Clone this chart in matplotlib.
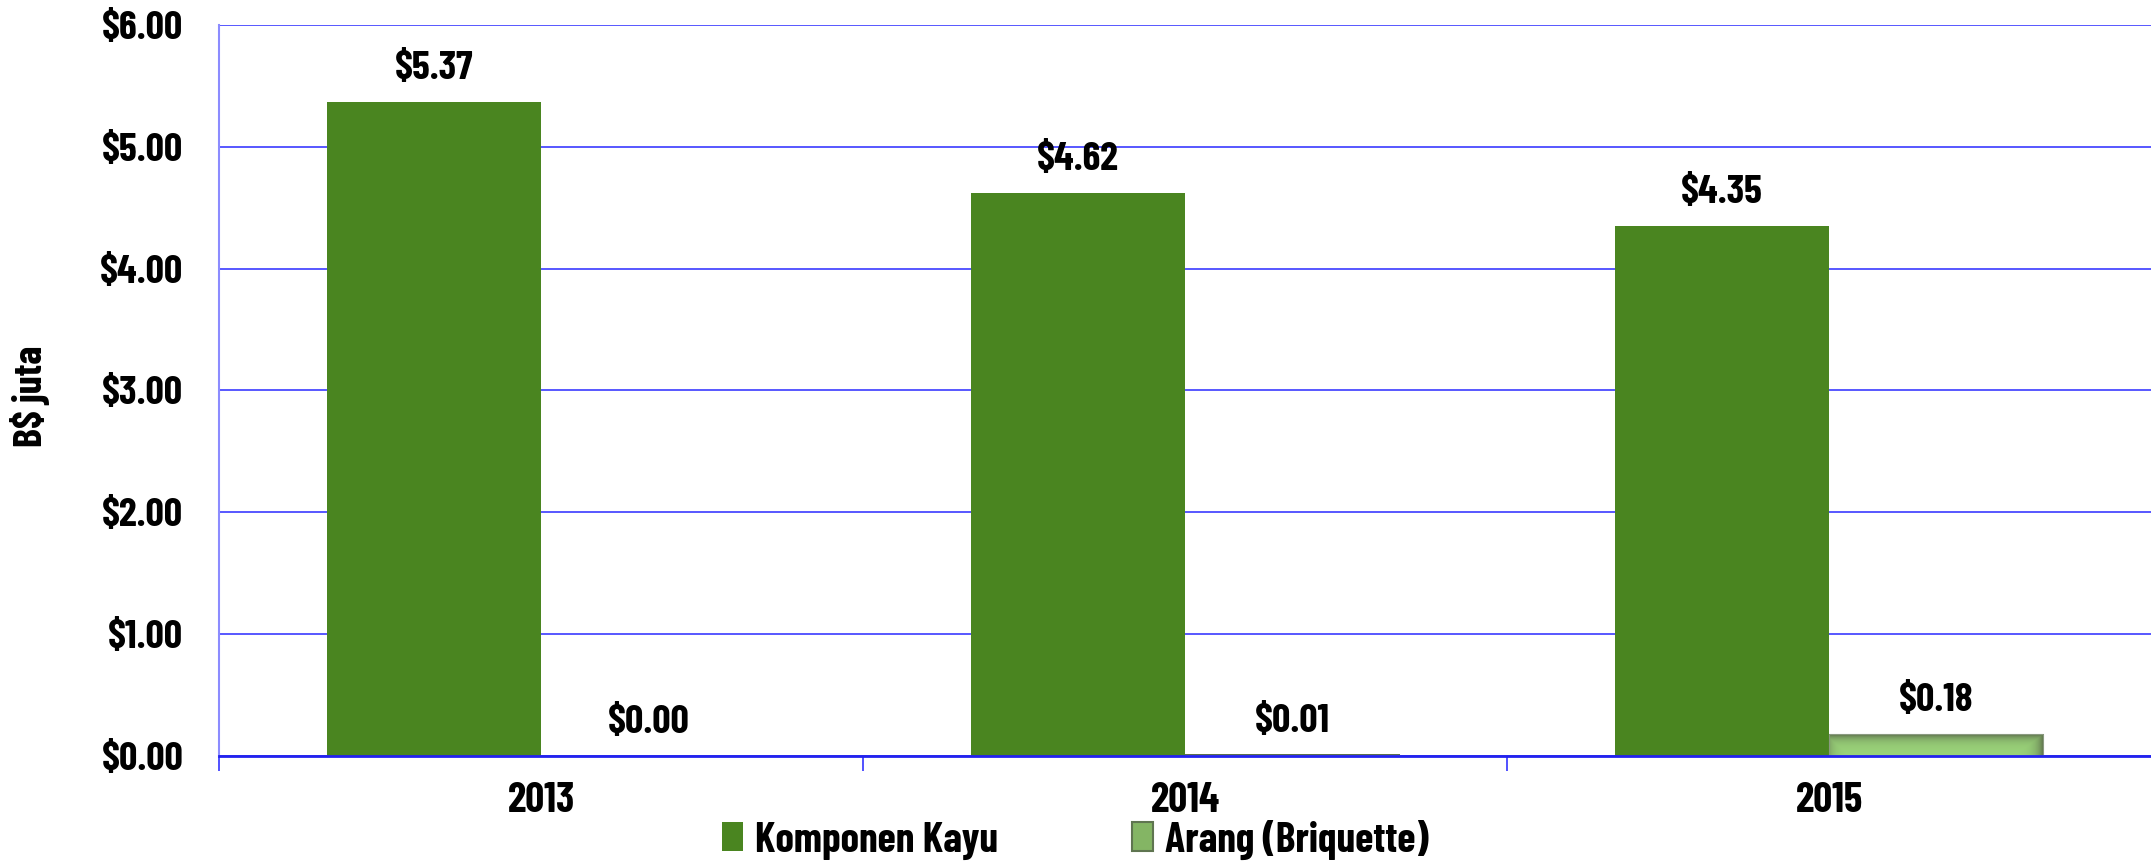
import matplotlib
matplotlib.use("Agg")
import matplotlib.pyplot as plt
import numpy as np
from matplotlib.patches import Patch

years = ["2013", "2014", "2015"]
komponen_kayu = [5.37, 4.62, 4.35]
arang = [0.00, 0.01, 0.18]
series_names = ["Komponen Kayu", "Arang (Briquette)"]
ytick_vals = [0, 1, 2, 3, 4, 5, 6]
ytick_labels = ["$0.00", "$1.00", "$2.00", "$3.00", "$4.00", "$5.00", "$6.00"]

FONT = ['Barlow Condensed', 'DejaVu Sans']
plt.rcParams['font.family'] = FONT
plt.rcParams['font.weight'] = 'bold'
FS = 29

fig = plt.figure(figsize=(21.51, 8.61), dpi=100)
ax = fig.add_axes([0.102, 0.122, 0.898, 0.849])

x = np.arange(len(years))
w = 0.333
c1 = '#4a8520'
b1 = ax.bar(x - w / 2, komponen_kayu, w, color=c1, zorder=3)
b2 = ax.bar(x + w / 2, arang, w, color='none', edgecolor='#8a9a80', linewidth=0.8, zorder=4)

ax.set_xlim(-0.5, 2.5)
ax.set_ylim(0, 6)
fig.canvas.draw()

# inner-shadow gradient fill for the Arang bars
base = np.array([155, 212, 122]) / 255
dark = np.array([88, 104, 72]) / 255
to_px = ax.transData
for r in b2:
    x0, y0 = r.get_x(), r.get_y()
    x1, y1 = x0 + r.get_width(), y0 + r.get_height()
    if r.get_height() <= 0:
        continue
    (px0, py0), (px1, py1) = to_px.transform([(x0, y0), (x1, y1)])
    wpx, hpx = max(px1 - px0, 1), max(py1 - py0, 1)
    nx, ny = int(wpx), max(int(hpx), 2)
    u = (np.arange(nx) + 0.5) / nx
    v = (np.arange(ny) + 0.5) / ny  # 0 at top row
    U, V = np.meshgrid(u, v)
    top = V * hpx
    right = (1 - U) * wpx
    left = U * wpx
    s = np.maximum.reduce([np.exp(-top / 5.0), np.exp(-right / 7.0), 0.45 * np.exp(-left / 6.0)])
    img = base * (1 - s[..., None]) + dark * s[..., None]
    ax.imshow(img, extent=(x0, x1, y0, y1), aspect='auto', zorder=3.5, interpolation='bilinear')

ax.set_xlim(-0.5, 2.5)
ax.set_ylim(0, 6)

for bars, vals in ((b1, komponen_kayu), (b2, arang)):
    for r, v in zip(bars, vals):
        ax.annotate(f"${v:.2f}", (r.get_x() + r.get_width() / 2, v),
                    xytext=(0, 24), textcoords='offset points',
                    ha='center', va='center', fontsize=FS, fontweight='bold',
                    family=FONT)

ax.set_yticks(ytick_vals)
ax.set_yticklabels(ytick_labels)
ax.set_xticks(x)
ax.set_xticklabels(years)
ax.set_xticks([-0.5, 0.5, 1.5], minor=True)
ax.tick_params(axis='x', which='major', length=0, pad=19, labelsize=FS + 1)
ax.tick_params(axis='x', which='minor', length=11, width=1.2, color='#3333ff')
ax.tick_params(axis='y', length=0, pad=26, labelsize=FS)
for lab in ax.get_xticklabels() + ax.get_yticklabels():
    lab.set_fontweight('bold')

ax.yaxis.grid(True, color='#3b3bff', linewidth=1.2, zorder=0)
ax.set_axisbelow(True)
for s in ('top', 'right'):
    ax.spines[s].set_visible(False)
ax.spines['left'].set_color('#8c8cff')
ax.spines['left'].set_linewidth(1.5)
ax.spines['bottom'].set_color('#2222ee')
ax.spines['bottom'].set_linewidth(2)
ax.spines['bottom'].set_zorder(5)

fig.text(0.014, 0.54, "B$ juta", rotation=90, ha='center', va='center',
         fontsize=29, fontweight='bold', family=FONT)

handles = [Patch(facecolor=c1), Patch(facecolor='#84b564', edgecolor='#5f7550', linewidth=1.5)]
leg = fig.legend(handles, series_names, loc='center', bbox_to_anchor=(0.5, 0.025),
                 ncol=2, frameon=False, handlelength=0.5, handleheight=0.7,
                 handletextpad=0.3, columnspacing=3.2,
                 prop={'family': FONT, 'weight': 'bold', 'size': 30})

fig.savefig("out.png", dpi=100)
